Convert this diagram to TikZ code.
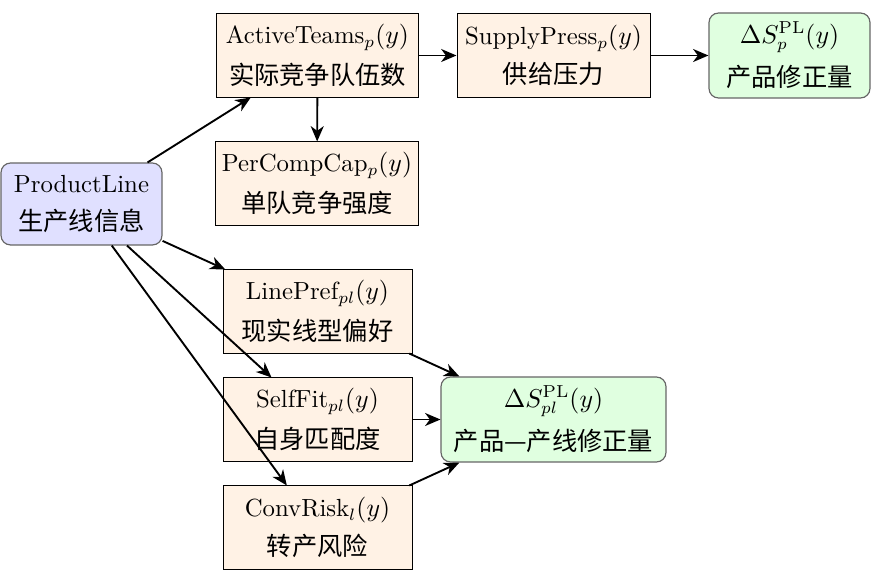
\documentclass[tikz,border=0pt]{standalone}
\usepackage{fontspec}
\newfontfamily\cjk{Noto Sans CJK SC}[Scale=1.02]
\usetikzlibrary{arrows.meta}
\begin{document}
\begin{tikzpicture}[x=0.4237pt,y=-0.4237pt,
  every node/.style={align=center,inner sep=0pt,font=\fontsize{10.5}{12}\selectfont},
  calc/.style={draw=black,line width=0.4pt,fill=orange!10,minimum height=35.2pt},
  info/.style={draw=black!60,line width=0.5pt,fill=blue!12,rounded corners=4pt,minimum height=34.7pt},
  result/.style={draw=black!60,line width=0.5pt,fill=green!12,rounded corners=4pt,minimum height=36pt},
  link/.style={-{Stealth[length=6.5pt,width=5.5pt,inset=2pt]},line width=0.8pt}]
\useasboundingbox (0,0) rectangle (890,576);
\node[info,minimum width=68.2pt] (pl) at (81.5,204) {ProductLine\\[4.5pt]{\cjk 生产线信息}};
\node[calc,minimum width=85.2pt] (at) at (317.5,55.5) {ActiveTeams$_p(y)$\\[4.5pt]{\cjk 实际竞争队伍数}};
\node[calc,minimum width=81.8pt] (sp) at (553.5,55.5) {SupplyPress$_p(y)$\\[4.5pt]{\cjk 供给压力}};
\node[result,minimum width=68.2pt] (dsp) at (789.5,55.5) {$\Delta S_p^{\mathrm{PL}}(y)$\\[4.5pt]{\cjk 产品修正量}};
\node[calc,minimum width=86.4pt] (pc) at (317,183.5) {PerCompCap$_p(y)$\\[4.5pt]{\cjk 单队竞争强度}};
\node[calc,minimum width=80.1pt] (lp) at (317.5,311.5) {LinePref$_{pl}(y)$\\[4.5pt]{\cjk 现实线型偏好}};
\node[calc,minimum width=80.1pt] (sf) at (317.5,419.5) {SelfFit$_{pl}(y)$\\[4.5pt]{\cjk 自身匹配度}};
\node[calc,minimum width=80.1pt] (cr) at (317.5,527.5) {ConvRisk$_l(y)$\\[4.5pt]{\cjk 转产风险}};
\node[result,minimum width=95.3pt] (dspl) at (553.5,419.5) {$\Delta S_{pl}^{\mathrm{PL}}(y)$\\[4.5pt]{\cjk 产品—产线修正量}};
\draw[link] (pl) -- (at);
\draw[link] (pl) -- (lp);
\draw[link] (pl) -- (sf);
\draw[link] (pl) -- (cr);
\draw[link] (at) -- (pc);
\draw[link] (at) -- (sp);
\draw[link] (sp) -- (dsp);
\draw[link] (lp) -- (dspl);
\draw[link] (sf) -- (dspl);
\draw[link] (cr) -- (dspl);
\end{tikzpicture}
\end{document}
